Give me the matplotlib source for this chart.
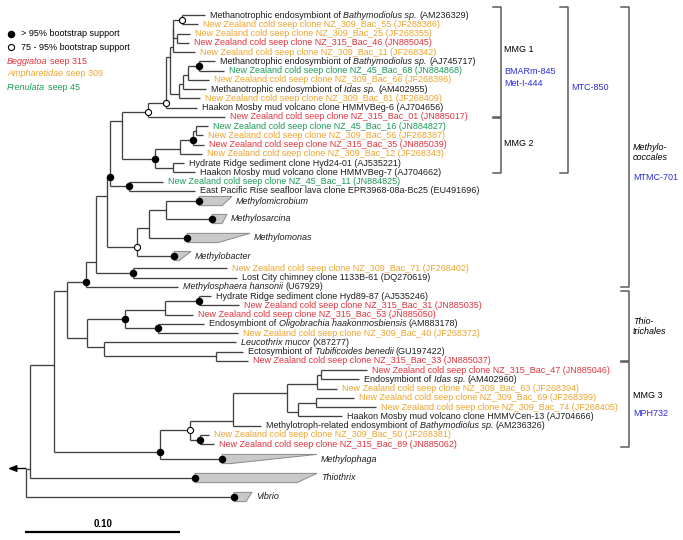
import matplotlib
matplotlib.use("Agg")
import matplotlib.pyplot as plt
from matplotlib.patches import Polygon

plt.rcParams["font.family"] = "Liberation Sans"

SITE_COLOUR = {"ref": "#1e1e1e", "309": "#eea42e", "315": "#e0343e", "45": "#1c9a58"}
BLUE = "#2b2bdc"
LINE = "#404040"
FS = 6.5

NZ = "New Zealand cold seep clone "

# ---- leaves, top to bottom (text between * is italic) ----
leaf_ids = ["L%d" % i for i in range(1, 21)] + ["Mmic", "Msar", "Mmon", "Mbac"] + \
           ["L%d" % i for i in range(25, 45)] + ["Mpha", "Thio", "Vib"]
leaf_labels = [
    "Methanotrophic endosymbiont of *Bathymodiolus sp.* (AM236329)",
    NZ + "NZ_309_Bac_55 (JF268386)",
    NZ + "NZ_309_Bac_25 (JF268355)",
    NZ + "NZ_315_Bac_46 (JN885045)",
    NZ + "NZ_309_Bac_11 (JF268342)",
    "Methanotrophic endosymbiont of *Bathymodiolus sp.* (AJ745717)",
    NZ + "NZ_45_Bac_68 (JN884868)",
    NZ + "NZ_309_Bac_66 (JF268396)",
    "Methanotrophic endosymbiont of *Idas sp.* (AM402955)",
    NZ + "NZ_309_Bac_81 (JF268409)",
    "Haakon Mosby mud volcano clone HMMVBeg-6 (AJ704656)",
    NZ + "NZ_315_Bac_01 (JN885017)",
    NZ + "NZ_45_Bac_16 (JN884827)",
    NZ + "NZ_309_Bac_56 (JF268387)",
    NZ + "NZ_315_Bac_35 (JN885039)",
    NZ + "NZ_309_Bac_12 (JF268343)",
    "Hydrate Ridge sediment clone Hyd24-01 (AJ535221)",
    "Haakon Mosby mud volcano clone HMMVBeg-7 (AJ704662)",
    NZ + "NZ_45_Bac_11 (JN884825)",
    "East Pacific Rise seafloor lava clone EPR3968-08a-Bc25 (EU491696)",
    "*Methylomicrobium*",
    "*Methylosarcina*",
    "*Methylomonas*",
    "*Methylobacter*",
    NZ + "NZ_309_Bac_71 (JF268402)",
    "Lost City chimney clone 1133B-61 (DQ270619)",
    "*Methylosphaera hansonii* (U67929)",
    "Hydrate Ridge sediment clone Hyd89-87 (AJ535246)",
    NZ + "NZ_315_Bac_31 (JN885035)",
    NZ + "NZ_315_Bac_53 (JN885050)",
    "Endosymbiont of *Oligobrachia haakonmosbiensis* (AM883178)",
    NZ + "NZ_309_Bac_40 (JF268372)",
    "*Leucothrix mucor* (X87277)",
    "Ectosymbiont of *Tubificoides benedii* (GU197422)",
    NZ + "NZ_315_Bac_33 (JN885037)",
    NZ + "NZ_315_Bac_47 (JN885046)",
    "Endosymbiont of *Idas sp.* (AM402960)",
    NZ + "NZ_309_Bac_63 (JF268394)",
    NZ + "NZ_309_Bac_69 (JF268399)",
    NZ + "NZ_309_Bac_74 (JF268405)",
    "Haakon Mosby mud volcano clone HMMVCen-13 (AJ704666)",
    "Methylotroph-related endosymbiont of *Bathymodiolus sp.* (AM236326)",
    NZ + "NZ_309_Bac_50 (JF268381)",
    NZ + "NZ_315_Bac_89 (JN885062)",
    "*Methylophaga*",
    "*Thiothrix*",
    "*Vibrio*",
]
leaf_site = ["ref", "309", "309", "315", "309", "ref", "45", "309", "ref", "309",
             "ref", "315", "45", "309", "315", "309", "ref", "ref", "45", "ref",
             "ref", "ref", "ref", "ref",
             "309", "ref", "ref", "ref", "315", "315", "ref", "309", "ref", "ref",
             "315", "315", "ref", "309", "309", "309", "ref", "ref", "309", "315",
             "ref", "ref", "ref"]
# tip depth (substitutions/site from root); for collapsed groups: base of wedge
leaf_depth = [0.1155, 0.1110, 0.1058, 0.1052, 0.1090, 0.1219, 0.1277, 0.1181, 0.1161, 0.1123,
              0.1103, 0.1284, 0.1174, 0.1142, 0.1148, 0.1135, 0.1019, 0.1090, 0.0884, 0.1090,
              0.1116, 0.1200, 0.1039, 0.0955,
              0.1297, 0.1361, 0.0981, 0.1194, 0.1374, 0.1077, 0.1148, 0.1368, 0.1355, 0.1400,
              0.1432, 0.2200, 0.2148, 0.2006, 0.2116, 0.2258, 0.2039, 0.1516, 0.1181, 0.1213,
              0.1265, 0.1090, 0.1342]
# collapsed groups: deepest and shallowest member
group_max = {"Mmic": 0.1329, "Msar": 0.1297, "Mmon": 0.1445, "Mbac": 0.1065,
             "Mpha": 0.1877, "Thio": 0.1877, "Vib": 0.1458}
group_min = {"Mmic": 0.1265, "Msar": 0.1265, "Mmon": 0.1239, "Mbac": 0.0987,
             "Mpha": 0.1316, "Thio": 0.1748, "Vib": 0.1419}
# extra vertical room around collapsed groups (rows before the entry)
row_gap = {"Mmic": 1.09, "Msar": 1.94, "Mmon": 2.05, "Mbac": 1.95, "L25": 1.32,
           "Mpha": 1.6, "Thio": 2.05, "Vib": 2.05}

# ---- internal nodes: depth, children (top to bottom) ----
nodes = {
    "root": (0.0, ["N30", "Vib"]),
    "N30": (0.0026, ["N54", "Thio"]),
    "N54": (0.0181, ["N67", "N160"]),
    "N67": (0.0265, ["N86", "N87"]),
    "N86": (0.0387, ["N96", "L27"]),
    "N96": (0.0452, ["N107", "N133"]),
    "N107": (0.0523, ["N110", "N137"]),
    "N110": (0.0542, ["N122", "N129"]),
    "N122": (0.0619, ["N148", "N155"]),
    "N148": (0.0787, ["N166", "L12"]),
    "N166": (0.0903, ["X", "L11"]),
    "X": (0.0929, ["A", "B"]),
    "A": (0.0948, ["A1", "L5"]),
    "A1": (0.0948, ["N182", "N177"]),
    "N182": (0.1006, ["L1", "L2"]),
    "N177": (0.0974, ["L3", "L4"]),
    "B": (0.0987, ["N183", "L10"]),
    "N183": (0.1013, ["N188", "L9"]),
    "N188": (0.1045, ["N199a", "L8"]),
    "N199a": (0.1116, ["L6", "L7"]),
    "N155": (0.0832, ["N180", "N173"]),
    "N180": (0.0994, ["N193", "L16"]),
    "N193": (0.1077, ["N196", "L15"]),
    "N196": (0.1097, ["L13", "L14"]),
    "N173": (0.0948, ["L17", "L18"]),
    "N129": (0.0665, ["L19", "L20"]),
    "N137": (0.0716, ["N149", "Mbac"]),
    "N149": (0.0794, ["N166b", "Mmon"]),
    "N166b": (0.0903, ["Mmic", "Msar"]),
    "N133": (0.0690, ["L25", "L26"]),
    "N87": (0.0394, ["N125", "N104"]),
    "N125": (0.0639, ["N165", "N158"]),
    "N165": (0.0897, ["N199b", "L30"]),
    "N199b": (0.1116, ["L28", "L29"]),
    "N158": (0.0852, ["L31", "L32"]),
    "N104": (0.0503, ["L33", "N216"]),
    "N216": (0.1226, ["L34", "L35"]),
    "N160": (0.0865, ["N190", "Mpha"]),
    "N190": (0.1058, ["N233", "N200"]),
    "N233": (0.1335, ["N287", "L42"]),
    "N287": (0.1684, ["N317", "N298"]),
    "N317": (0.1877, ["N321", "L38"]),
    "N321": (0.1903, ["L36", "L37"]),
    "N298": (0.1755, ["N316", "L41"]),
    "N316": (0.1871, ["L39", "L40"]),
    "N200": (0.1123, ["L43", "L44"]),
}
support_high = ["N199a", "N193", "N155", "N110", "N129", "Mmic", "Msar", "Mmon", "Mbac",
                "N133", "N86", "N199b", "N125", "N158", "N160", "N200", "Mpha", "Thio", "Vib"]
support_mid = ["N182", "N166", "N148", "N137", "N190"]

# ---- layout (pixels of the 683x540 canvas) ----
ROOT_PX, PX_PER_UNIT = 26.0, 1550.0
TOP_PX, ROW_PX = 15.0, 9.26


def X(d):
    return ROOT_PX + d * PX_PER_UNIT


def Y(r):
    return TOP_PX + r * ROW_PX


row = {}
r = 0.0
for i, lid in enumerate(leaf_ids):
    if i:
        r += row_gap.get(lid, 1.0)
    row[lid] = r
depth = {lid: d for lid, d in zip(leaf_ids, leaf_depth)}
for n, (d, _) in nodes.items():
    depth[n] = d


def first_leaf(n):
    return first_leaf(nodes[n][1][0]) if n in nodes else n


def last_leaf(n):
    return last_leaf(nodes[n][1][-1]) if n in nodes else n


ypos = {lid: row[lid] for lid in leaf_ids}


def place(n):
    if n not in nodes:
        return ypos[n]
    kids = nodes[n][1]
    for k in kids:
        place(k)
    ypos[n] = 0.5 * (row[last_leaf(kids[0])] + row[first_leaf(kids[-1])])
    return ypos[n]


place("root")

fig = plt.figure(figsize=(6.83, 5.4), dpi=100)
ax = fig.add_axes([0, 0, 1, 1])
ax.set_xlim(0, 683)
ax.set_ylim(540, 0)
ax.axis("off")
renderer = fig.canvas.get_renderer()


def text_width(s, style="normal"):
    t = ax.text(0, 0, s, fontsize=FS, style=style)
    w = t.get_window_extent(renderer).width
    t.remove()
    return w


SPACE = text_width("x x") - text_width("xx")


def rich(x, y, s, color, size=FS):
    """Draw a label whose *starred* parts are italic, piece by piece."""
    for i, part in enumerate(s.split("*")):
        if not part:
            continue
        if part[0] == " ":
            x += SPACE
        core = part.strip()
        if core:
            t = ax.text(x, y, core, fontsize=size, color=color, va="center", ha="left",
                        style="italic" if i % 2 else "normal")
            x += t.get_window_extent(renderer).width
        if part[-1] == " ":
            x += SPACE


for n, (d, kids) in nodes.items():
    ys = [Y(ypos[k]) for k in kids]
    ax.plot([X(d), X(d)], [min(ys), max(ys)], color=LINE, lw=0.95, solid_capstyle="butt")
    for k in kids:
        ax.plot([X(d), X(depth[k])], [Y(ypos[k])] * 2, color=LINE, lw=0.95,
                solid_capstyle="butt")

for lid, lab, site in zip(leaf_ids, leaf_labels, leaf_site):
    y = Y(row[lid])
    if lid in group_max:
        b, t, m = X(depth[lid]), X(group_max[lid]), X(group_min[lid])
        h = 0.5 * ROW_PX
        ax.add_patch(Polygon([(b, y - h), (t, y - h), (m, y + h), (b, y + h)],
                             closed=True, fc="#c9c9c9", ec="#8a8a8a", lw=0.7, zorder=2))
        tx = t + 4
    else:
        tx = X(depth[lid]) + 5
    rich(tx, y, lab, SITE_COLOUR[site])

for n in support_high:
    ax.plot(X(depth[n]), Y(ypos[n]), "o", ms=4.4, color="black", zorder=4)
for n in support_mid:
    ax.plot(X(depth[n]), Y(ypos[n]), "o", ms=4.4, mfc="white", mec="black", mew=0.8,
            zorder=4)

# outgroup arrow at root
ry = Y(ypos["N30"])
ax.annotate("", xy=(8, ry), xytext=(X(0), ry),
            arrowprops=dict(arrowstyle="-|>,head_length=0.5,head_width=0.2",
                            color="black", lw=1.0, shrinkA=0, shrinkB=0))

# scale bar
ax.plot([X(-0.0006), X(0.0994)], [532, 532], color="black", lw=1.6, solid_capstyle="butt")
ax.text(X(0.05), 527, "0.10", fontsize=FS + 0.5, fontweight="bold", ha="center",
        va="baseline")

# legend
ax.plot(11, 34, "o", ms=4.4, color="black")
ax.plot(11, 47, "o", ms=4.4, mfc="white", mec="black", mew=0.8)
rich(21, 34, "> 95% bootstrap support", "black")
rich(21, 47, "75 - 95% bootstrap support", "black")
rich(7, 61, "*Beggiatoa* seep 315", SITE_COLOUR["315"])
rich(7, 74, "*Ampharetidae* seep 309", SITE_COLOUR["309"])
rich(7, 88, "*Frenulata* seep 45", SITE_COLOUR["45"])

# clade brackets: (x, top leaf, bottom leaf, top offset, bottom offset)
brackets = [
    (501, "L1", "L12", -0.87, 0.0),
    (501, "L12", "L18", 0.15, 0.05),
    (568, "L1", "L18", -0.87, 0.05),
    (629, "L1", "L27", -0.87, 0.05),
    (629, "L28", "L35", -0.55, 0.05),
    (629, "L35", "L44", 0.15, 0.3),
]
for bx, a, b, oa, ob in brackets:
    y0, y1 = Y(row[a] + oa), Y(row[b] + ob)
    ax.plot([bx - 8, bx, bx, bx - 8], [y0, y0, y1, y1], color="#5a5a5a", lw=1.1)

rich(504, 49, "MMG 1", "black")
rich(504, 71, "BMARm-845", BLUE)
rich(504, 83, "Met-I-444", BLUE)
rich(504, 144, "MMG 2", "black")
rich(571, 88, "MTC-850", BLUE)
rich(633, 147, "*Methylo-*", "black")
rich(633, 157, "*coccales*", "black")
rich(633, 178, "MTMC-701", BLUE)
rich(633, 321, "*Thio-*", "black")
rich(633, 331, "*trichales*", "black")
rich(633, 395, "MMG 3", "black")
rich(633, 413, "MPH732", BLUE)

fig.savefig("out.png", dpi=100)
